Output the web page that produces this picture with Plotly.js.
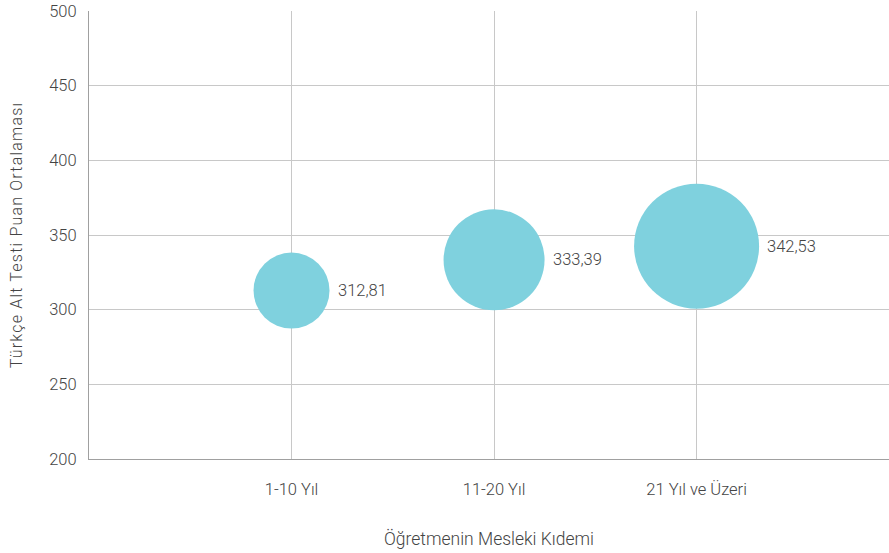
<!DOCTYPE html>
<html>
<head>
<meta charset="utf-8">
<script src="https://cdn.plot.ly/plotly-3.0.1.min.js"></script>
<style>
html,body{margin:0;padding:0;background:#fff;}
#chart{width:889px;height:553px;}
.g-ytitle text{letter-spacing:1.2px;}
</style>
</head>
<body>
<div id="chart"></div>
<script>
const categories = ["1-10 Yıl", "11-20 Yıl", "21 Yıl ve Üzeri"];
const categoryPositions = [1, 2, 3];
const scores = [312.81, 333.39, 342.53];
const scoreLabels = ["312,81", "333,39", "342,53"];
const bubbleSize = [76, 101, 125];

const trace = {
  type: "scatter",
  mode: "markers",
  x: categoryPositions,
  y: scores,
  marker: {size: bubbleSize, sizemode: "diameter", sizeref: 1, color: "#7fd1de", opacity: 1, line: {width: 0}},
  hoverinfo: "none",
  cliponaxis: false
};

const annotations = categoryPositions.map((x, i) => ({
  x: x, y: scores[i], xref: "x", yref: "y",
  text: scoreLabels[i], showarrow: false,
  xanchor: "left", yanchor: "middle",
  xshift: bubbleSize[i] / 2 + 6,
  font: {family: "Roboto, sans-serif", size: 16.5, color: "#444", weight: 300}
}));

const layout = {
  width: 889, height: 553,
  margin: {l: 89, r: 0, t: 11, b: 94},
  paper_bgcolor: "#fff", plot_bgcolor: "#fff",
  showlegend: false,
  font: {family: "Roboto, sans-serif", color: "#444"},
  annotations: annotations,
  xaxis: {
    range: [0, 3.95],
    tickmode: "array",
    tickvals: categoryPositions,
    ticktext: categories,
    showgrid: true, gridcolor: "#c8c8c8", gridwidth: 1,
    zeroline: false,
    showline: true, linecolor: "#a0a0a0", linewidth: 1,
    ticks: "", ticklen: 0,
    ticklabelstandoff: 15,
    automargin: false,
    tickfont: {size: 16.5, color: "#444", weight: 300},
    title: {text: "Öğretmenin Mesleki Kıdemi", font: {size: 17.5, color: "#444", weight: 300}, standoff: 34}
  },
  yaxis: {
    range: [200, 500],
    dtick: 50,
    showgrid: true, gridcolor: "#c8c8c8", gridwidth: 1,
    zeroline: false,
    showline: true, linecolor: "#a0a0a0", linewidth: 1,
    ticks: "", ticklen: 0,
    ticklabelstandoff: 8,
    automargin: false,
    tickfont: {size: 16.5, color: "#444", weight: 300},
    title: {text: "Türkçe Alt Testi Puan Ortalaması", font: {family: "Roboto, sans-serif", size: 16, color: "#444", weight: 300}, standoff: 22}
  }
};

Plotly.newPlot("chart", [trace], layout, {displayModeBar: false, staticPlot: true});
</script>
</body>
</html>
